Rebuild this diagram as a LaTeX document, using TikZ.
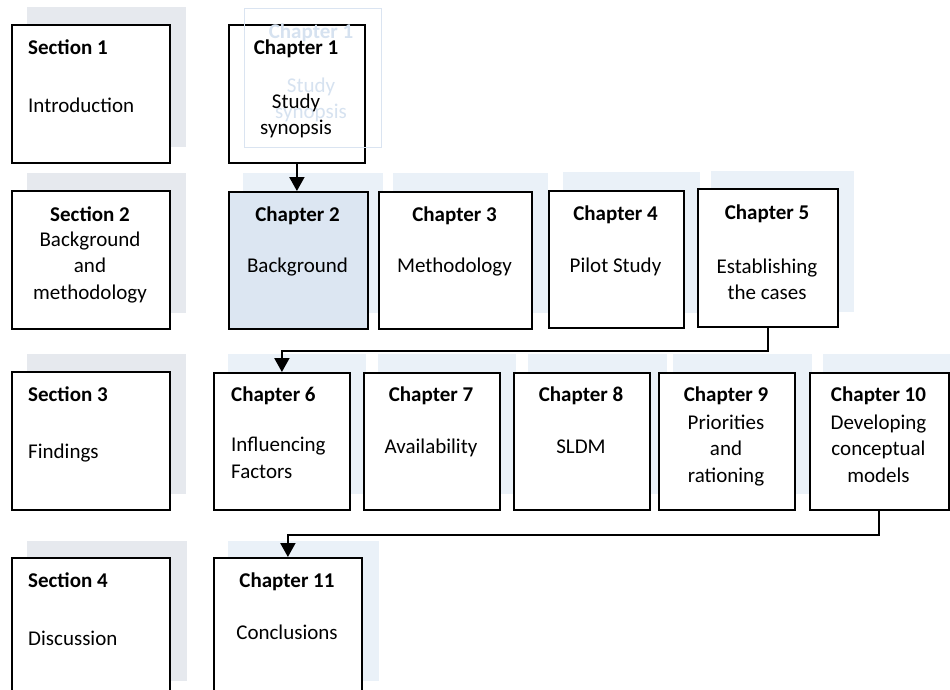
\documentclass[tikz,border=0pt]{standalone}
\usepackage{fontspec}
\setmainfont{Carlito}
\usetikzlibrary{arrows.meta}
\definecolor{secshade}{HTML}{E6E9EE}
\definecolor{chshade}{HTML}{EAF1F8}
\definecolor{chfill}{HTML}{DCE6F2}
\definecolor{ghostline}{HTML}{DAE4F1}
\definecolor{ghosttext}{HTML}{D6E2F0}

\begin{document}
\begin{tikzpicture}[x=1pt,y=-1pt,
  box/.style={draw=black, line width=1.8pt, fill=white, anchor=north west, inner sep=0},
  ghostbox/.style={draw=ghostline, line width=1.4pt, anchor=north west, inner sep=0},
  ttl/.style={font=\fontsize{21}{26.5}\selectfont\bfseries, inner sep=0, anchor=base},
  txt/.style={font=\fontsize{21}{26.5}\selectfont, inner sep=0, anchor=base, align=center},
  ltxt/.style={font=\fontsize{21}{26.5}\selectfont, inner sep=0, anchor=base west, align=left},
  lttl/.style={ttl, anchor=base west},
  flow/.style={line width=2pt, -{Triangle[width=15pt,length=14pt]}},
]
\clip (0,0) rectangle (950,689);
\fill[white] (0,0) rectangle (950,689);

% offset panels behind the boxes
\fill[secshade] (27,7)   rectangle (186,147);
\fill[secshade] (27,173) rectangle (186,313);
\fill[secshade] (27,354) rectangle (186,494);
\fill[secshade] (27,541) rectangle (187,681);
\fill[chshade] (243,173) rectangle (383,313);
\fill[chshade] (393,173) rectangle (548,313);
\fill[chshade] (563,172) rectangle (700,313);
\fill[chshade] (711,171) rectangle (854,312);
\fill[chshade] (228,354) rectangle (366,494);
\fill[chshade] (378,354) rectangle (516,494);
\fill[chshade] (528,354) rectangle (667,494);
\fill[chshade] (673,354) rectangle (812,494);
\fill[chshade] (823,354) rectangle (960,494);
\fill[chshade] (228,541) rectangle (379,681);

% section boxes
\node[box, minimum width=158pt, minimum height=138pt] (s1) at (11,24) {};
\node[box, minimum width=158pt, minimum height=138pt] (s2) at (11,190) {};
\node[box, minimum width=158pt, minimum height=138pt] (s3) at (11,371) {};
\node[box, minimum width=158pt, minimum height=138pt] (s4) at (11,557) {};

% chapter boxes
\node[box, minimum width=136pt, minimum height=138pt] (c1) at (228,24) {};
\node[box, fill=chfill, minimum width=139pt, minimum height=137pt] (c2) at (228,191) {};
\node[box, minimum width=153pt, minimum height=137pt] (c3) at (378,191) {};
\node[box, minimum width=135pt, minimum height=137pt] (c4) at (548,190) {};
\node[box, minimum width=140pt, minimum height=138pt] (c5) at (697,188) {};
\node[box, minimum width=136pt, minimum height=137pt] (c6) at (213,372) {};
\node[box, minimum width=136pt, minimum height=137pt] (c7) at (363,372) {};
\node[box, minimum width=136pt, minimum height=137pt] (c8) at (513,372) {};
\node[box, minimum width=136pt, minimum height=137pt] (c9) at (658,372) {};
\node[box, minimum width=139pt, minimum height=137pt] (c10) at (809,372) {};
\node[box, minimum width=148pt, minimum height=140pt] (c11) at (213,557) {};

% faint offset copy of the first chapter box, lying over it
\node[ghostbox, minimum width=137pt, minimum height=139pt] (g1) at (244,8) {};
\node[ttl, text=ghosttext] (g1t) at (311,38) {Chapter 1};
% multi-line nodes sit on their last baseline
\node[txt, text=ghosttext] (g1b) at (311,118.5) {Study\\synopsis};

% section labels
\node[lttl] (s1t) at (28,54) {Section 1};
\node[ltxt] (s1b) at (28,112) {Introduction};
\node[ttl] (s2t) at (90,221) {Section 2};
\node[txt] (s2b) at (90,299) {Background\\and\\methodology};
\node[lttl] (s3t) at (28,401) {Section 3};
\node[ltxt] (s3b) at (28,458) {Findings};
\node[lttl] (s4t) at (28,587) {Section 4};
\node[ltxt] (s4b) at (28,645) {Discussion};

% chapter labels
\node[ttl] (c1t) at (296,54) {Chapter 1};
\node[txt] (c1b) at (296,134.5) {Study\\synopsis};
\node[ttl] (c2t) at (297.5,221) {Chapter 2};
\node[txt] (c2b) at (297.5,272) {Background};
\node[ttl] (c3t) at (454.5,221) {Chapter 3};
\node[txt] (c3b) at (454.5,272) {Methodology};
\node[ttl] (c4t) at (615.5,220) {Chapter 4};
\node[txt] (c4b) at (615.5,272) {Pilot Study};
\node[ttl] (c5t) at (767,219) {Chapter 5};
\node[txt] (c5b) at (767,299.5) {Establishing\\the cases};
\node[lttl] (c6t) at (231,401) {Chapter 6};
\node[ltxt] (c6b) at (231,478) {Influencing\\Factors};
\node[ttl] (c7t) at (431,401) {Chapter 7};
\node[txt] (c7b) at (431,453) {Availability};
\node[ttl] (c8t) at (581,401) {Chapter 8};
\node[txt] (c8b) at (581,453) {SLDM};
\node[ttl] (c9t) at (726,401) {Chapter 9};
\node[txt] (c9b) at (726,482) {Priorities\\and\\rationing};
\node[ttl] (c10t) at (878.5,401) {Chapter 10};
\node[txt] (c10b) at (878.5,482) {Developing\\conceptual\\models};
\node[ttl] (c11t) at (287,587) {Chapter 11};
\node[txt] (c11b) at (287,639) {Conclusions};

% reading order
\draw[flow] (c1.south) -- (c1.south |- c2.north);
\draw[flow] (c5.south) -- ++(0,23) -| (c6.north);
\draw[flow] (c10.south) -- ++(0,24) -| (c11.north);
\end{tikzpicture}
\end{document}
